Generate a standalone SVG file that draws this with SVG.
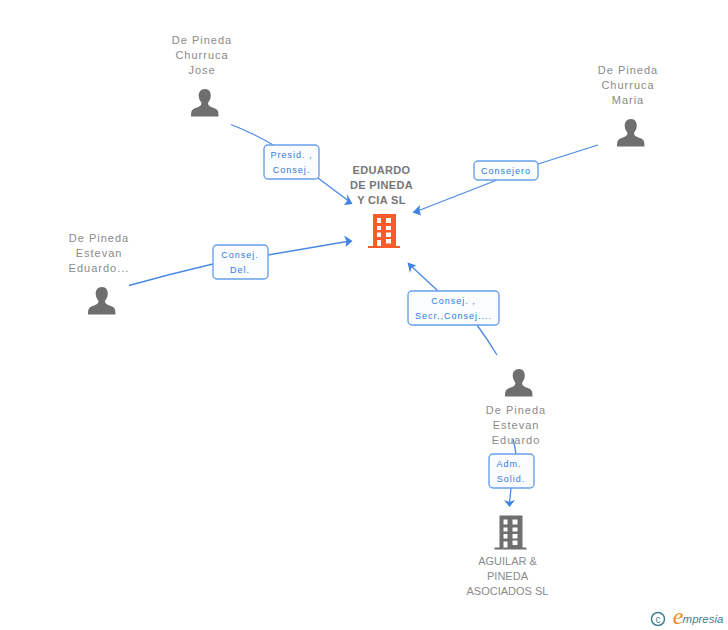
<svg xmlns="http://www.w3.org/2000/svg" width="728" height="630" viewBox="0 0 728 630">
<style>
text{font-family:"Liberation Sans",Arial,sans-serif;text-anchor:middle}
.n{font-size:11px;fill:#8a8a8a;letter-spacing:1px}
.t{font-size:11px;font-weight:bold;fill:#777;letter-spacing:.35px}
.a{font-size:11px;fill:#8a8a8a;letter-spacing:0}
.l{font-size:9px;fill:#2f7be0;letter-spacing:1px}
.c{fill:none;stroke:#4a8ae6;stroke-width:1.3}
.h{fill:#3f83e4}
.b{fill:#fbfcfe;stroke:#6aa0ea;stroke-width:1.4}
.p{fill:#6f6f6f}
</style>
<defs>
<symbol id="person" width="28" height="28" viewBox="0 0 28 28" overflow="visible">
<path d="M14 0C9.800 0 7.700 2.900 7.700 6.600C7.700 9.500 8.800 11.800 10.300 13.400C10.600 15 10.200 16.300 8.600 17.200C6.300 18.500 2.800 19.200 1.300 20.900C.3 22 0 24 0 27.500H27.500C27.500 24 27.200 22 26.200 20.900C24.700 19.200 21.200 18.500 18.900 17.200C17.300 16.300 16.900 15 17.200 13.400C18.700 11.800 19.800 9.500 19.800 6.600C19.800 2.900 18 0 14 0Z"/>
</symbol>
<symbol id="bld" width="32" height="34" viewBox="0 0 32 34" overflow="visible">
<path fill-rule="evenodd" d="M5 0H28V32H32V34H0V32H5ZM9 4V9H13V4ZM18 4V9H23V4ZM9 12V16H13V12ZM18 12V16H23V12ZM9 18.500V23H13V18.500ZM18 18.500V23H23V18.500ZM9 26V32H13V26ZM18 25V29.500H23V25Z"/>
</symbol>
</defs>
<g id="connectors">
<path class="c" d="M231 124.500Q255 134 275 146"/>
<path class="c" d="M318 178L350 202"/>
<path class="h" d="M352.500 204L344 205L347.500 200.500L347 194Z"/>
<path class="c" d="M598 145L538 164"/>
<path class="c" d="M497 180L415 212"/>
<path class="h" d="M412.500 212.500L420 205L419.500 210.500L421 215.500Z"/>
<path class="c" d="M129 285.500Q170 274 213 264"/>
<path class="c" d="M268 255L350 241"/>
<path class="h" d="M352.500 241L344 235.500L346.500 241L345.500 247Z"/>
<path class="c" d="M497 355Q488 340 477 325"/>
<path class="c" d="M438 291L410 265"/>
<path class="h" d="M407.500 262.500L416.500 265.500L411.500 267.500L410 273Z"/>
<path class="c" d="M513 439Q515 447 516 454"/>
<path class="c" d="M511 488L509.500 503"/>
<path class="h" d="M509.500 507L504 500L509.500 502L515 500Z"/>
</g>
<g id="n1"><text class="n" x="202" y="44">De Pineda</text><text class="n" x="202" y="59">Churruca</text><text class="n" x="202" y="74">Jose</text><use href="#person" x="191" y="89" class="p"/></g>
<g id="n2"><text class="n" x="628" y="74">De Pineda</text><text class="n" x="628" y="89">Churruca</text><text class="n" x="628" y="104">Maria</text><use href="#person" x="617" y="119" class="p"/></g>
<g id="n3"><text class="n" x="99" y="242">De Pineda</text><text class="n" x="99" y="257">Estevan</text><text class="n" x="99" y="272">Eduardo...</text><use href="#person" x="88" y="287" class="p"/></g>
<g id="n4"><text class="n" x="516" y="414">De Pineda</text><text class="n" x="516" y="429">Estevan</text><text class="n" x="516" y="444">Eduardo</text><use href="#person" x="505" y="369" class="p"/></g>
<g id="center"><text class="t" x="381.500" y="174">EDUARDO</text><text class="t" x="381.500" y="189">DE PINEDA</text><text class="t" x="381.500" y="204">Y CIA SL</text><use href="#bld" x="368" y="214" fill="#ff5a2b"/></g>
<g id="company"><text class="a" x="507.500" y="565">AGUILAR &amp;</text><text class="a" x="507.500" y="580">PINEDA</text><text class="a" x="507.500" y="595">ASOCIADOS SL</text><use href="#bld" x="494.500" y="515.500" class="p"/></g>
<g id="lb1"><rect class="b" x="264" y="145" width="55" height="34" rx="4"/><text class="l" x="291.500" y="158">Presid. ,</text><text class="l" x="291.500" y="173">Consej.</text></g>
<g id="lb2"><rect class="b" x="474" y="161" width="64" height="19" rx="4"/><text class="l" x="506" y="174">Consejero</text></g>
<g id="lb3"><rect class="b" x="213" y="245" width="55" height="34" rx="4"/><text class="l" x="240" y="258">Consej.</text><text class="l" x="240" y="273">Del.</text></g>
<g id="lb4"><rect class="b" x="408" y="291" width="91" height="34" rx="4"/><text class="l" x="453.500" y="304">Consej. ,</text><text class="l" x="453.500" y="319">Secr.,Consej....</text></g>
<g id="lb5"><rect class="b" x="489" y="454" width="45" height="34" rx="4"/><text class="l" x="509" y="467">Adm.</text><text class="l" x="511" y="482">Solid.</text></g>
<g id="logo"><circle cx="658" cy="619" r="6.500" fill="none" stroke="#3f8296" stroke-width="1.500"/><text x="658" y="622.500" style="font-size:10px;fill:#3f8296">c</text><text x="678" y="624" style="font-size:24px;font-style:italic;fill:#f08a1d;font-family:'Liberation Serif',serif">e</text><text x="703" y="623" style="font-size:11.500px;font-style:italic;fill:#3f8296">mpresia</text></g>
</svg>
